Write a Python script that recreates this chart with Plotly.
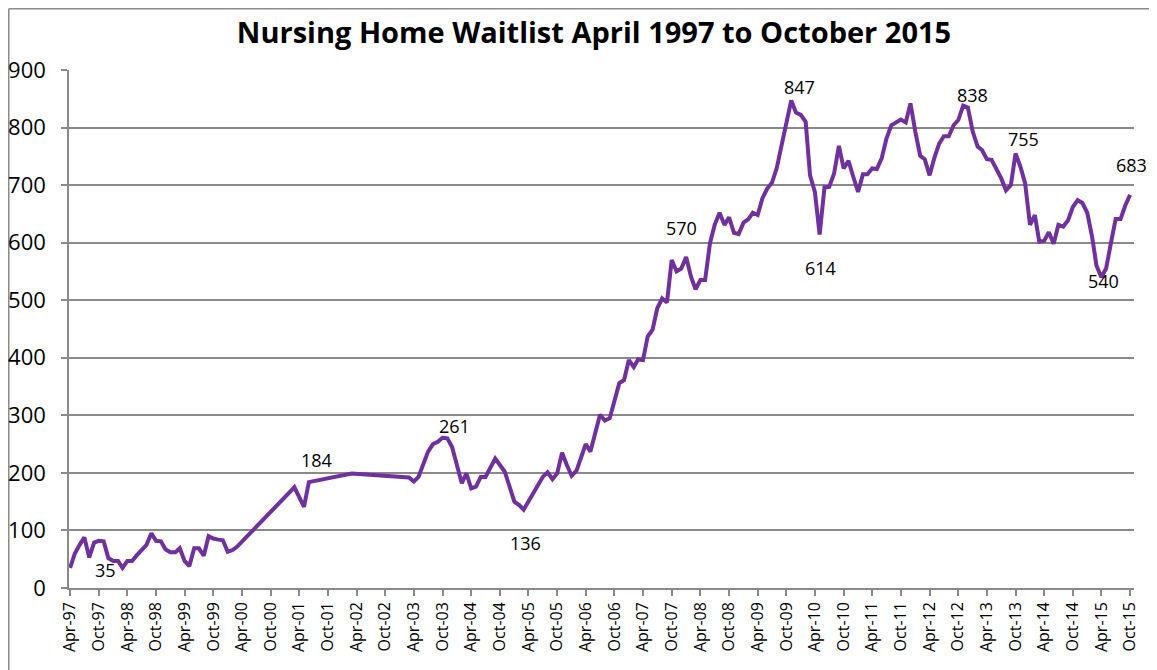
import plotly.graph_objects as go

months = [
    "1997-04", "1997-05", "1997-06", "1997-07", "1997-08", "1997-09", "1997-10", "1997-11", "1997-12",
    "1998-01", "1998-02", "1998-03", "1998-04", "1998-05", "1998-06", "1998-07", "1998-08", "1998-09", "1998-10", "1998-11", "1998-12",
    "1999-01", "1999-02", "1999-03", "1999-04", "1999-05", "1999-06", "1999-07", "1999-08", "1999-09", "1999-10", "1999-11", "1999-12",
    "2000-01", "2000-02", "2000-03",
    "2001-03", "2001-05", "2001-06",
    "2002-03",
    "2003-03", "2003-04", "2003-05", "2003-07", "2003-08", "2003-09", "2003-10", "2003-11", "2003-12",
    "2004-02", "2004-03", "2004-04", "2004-05", "2004-06", "2004-07", "2004-09", "2004-11",
    "2005-01", "2005-02", "2005-03", "2005-04", "2005-05", "2005-06", "2005-07", "2005-08", "2005-09", "2005-10", "2005-11", "2005-12",
    "2006-01", "2006-02", "2006-04", "2006-05", "2006-07", "2006-08", "2006-09", "2006-11", "2006-12",
    "2007-01", "2007-02", "2007-03", "2007-04", "2007-05", "2007-06", "2007-07", "2007-08", "2007-09", "2007-10", "2007-11", "2007-12",
    "2008-01", "2008-02", "2008-03", "2008-04", "2008-05", "2008-06", "2008-07", "2008-08", "2008-09", "2008-10", "2008-11", "2008-12",
    "2009-01", "2009-02", "2009-03", "2009-04", "2009-05", "2009-06", "2009-07", "2009-08", "2009-09", "2009-10", "2009-11", "2009-12",
    "2010-01", "2010-02", "2010-03", "2010-04", "2010-05", "2010-06", "2010-07", "2010-08", "2010-09", "2010-10", "2010-11", "2010-12",
    "2011-01", "2011-02", "2011-03", "2011-04", "2011-05", "2011-06", "2011-07", "2011-08", "2011-09", "2011-10", "2011-11", "2011-12",
    "2012-01", "2012-02", "2012-03", "2012-04", "2012-05", "2012-06", "2012-07", "2012-08", "2012-09", "2012-10", "2012-11", "2012-12",
    "2013-01", "2013-02", "2013-03", "2013-04", "2013-05", "2013-06", "2013-07", "2013-08", "2013-09", "2013-10", "2013-11", "2013-12",
    "2014-01", "2014-02", "2014-03", "2014-04", "2014-05", "2014-06", "2014-07", "2014-08", "2014-09", "2014-10", "2014-11", "2014-12",
    "2015-01", "2015-02", "2015-03", "2015-04", "2015-05", "2015-06", "2015-07", "2015-08", "2015-09", "2015-10",
]

waitlist = [
    35, 60, 75, 88, 53, 79, 82, 81, 52,
    47, 47, 35, 47, 47, 57, 65, 75, 95, 82, 81, 67,
    62, 62, 69, 47, 38, 69, 69, 56, 90, 86, 84, 83,
    63, 66, 72,
    175, 141, 184,
    199,
    192, 185, 193, 237, 250, 254, 261, 260, 245,
    182, 199, 173, 176, 193, 193, 225, 202,
    150, 144, 136, 150, 163, 180, 193, 201, 189, 199, 235, 214,
    195, 204, 250, 237, 301, 291, 295, 356, 361,
    396, 384, 397, 396, 437, 449, 486, 503, 496, 570, 550, 555,
    575, 541, 519, 535, 535, 599, 631, 652, 631, 644, 617, 615,
    635, 641, 652, 648, 677, 694, 704, 730, 770, 810, 847, 826,
    822, 810, 717, 688, 614, 696, 697, 720, 768, 729, 742, 715,
    688, 719, 719, 729, 728, 747, 781, 804, 809, 814, 809, 842,
    793, 751, 745, 717, 747, 772, 785, 785, 804, 813, 838, 835,
    793, 767, 761, 745, 744, 727, 712, 691, 700, 755, 732, 703,
    631, 648, 602, 603, 618, 598, 631, 628, 639, 662, 674, 669,
    652, 610, 560, 540, 555, 599, 641, 641, 665, 683,
]

# labelled points: month, value, pixel offset of label (x, y up)
label_months = ["1997-04", "2001-06", "2003-10", "2005-03", "2007-10", "2009-11",
                "2010-05", "2012-11", "2013-10", "2015-04", "2015-10"]
label_values = [35, 184, 261, 136, 570, 847, 614, 838, 755, 540, 683]
label_shift = [(35, -2), (8, 22), (12, 12), (2, -33), (10, 32), (8, 14),
               (1, -33), (9, 11), (8, 14), (2, -4), (1, 30)]

title_text = "Nursing Home Waitlist April 1997 to October 2015"

FONT = "Open Sans"
GRID = "#8a8a8a"

# the page body adds an 8px offset, so the figure is sized/laid out accordingly
OFF = 8
W, H = 1157 - OFF, 670 - OFF
L, R, T, B = 69 - OFF, 1157 - 1134, 70 - OFF, 670 - 588
pw, ph = W - L - R, H - T - B

fig = go.Figure()
fig.add_trace(go.Scatter(
    x=[m + "-01" for m in months], y=waitlist, mode="lines",
    line=dict(color="#7030A0", width=4), hoverinfo="x+y", showlegend=False,
))

for m, v, (dx, dy) in zip(label_months, label_values, label_shift):
    fig.add_annotation(x=m + "-01", y=v, text=str(v), showarrow=False,
                       xshift=dx, yshift=dy,
                       font=dict(family=FONT, size=18, color="black"))


def px(x):
    return (x - OFF - L) / pw


def py(y):
    return (H - B - (y - OFF)) / ph


# chart frame (left and top edges visible)
fig.add_shape(type="line", xref="paper", yref="paper",
              x0=px(8.75), x1=px(8.75), y0=py(670), y1=py(8.75),
              line=dict(color="#8a8a8a", width=1.5), layer="below")
fig.add_shape(type="line", xref="paper", yref="paper",
              x0=px(8.75), x1=px(1157), y0=py(8.75), y1=py(8.75),
              line=dict(color="#8a8a8a", width=1.5), layer="below")

fig.update_layout(
    width=W, height=H,
    margin=dict(l=L, r=R, t=T, b=B, autoexpand=False),
    paper_bgcolor="white", plot_bgcolor="white",
    title=dict(text="<b>" + title_text + "</b>", x=(594 - OFF) / W, xanchor="center",
               y=1 - (33 - OFF) / H, yanchor="middle",
               font=dict(family=FONT, size=29, color="black")),
    font=dict(family=FONT, color="black"),
)

fig.update_xaxes(
    type="date", range=["1997-03-25", "2015-10-26"], automargin=False,
    tick0="1997-04-01", dtick="M6", tickformat="%b-%y", tickangle=-90,
    ticks="outside", ticklen=6, tickcolor=GRID, tickwidth=1.5,
    showline=True, linecolor=GRID, linewidth=1.5,
    showgrid=False, zeroline=False,
    tickfont=dict(family=FONT, size=16, color="black"),
)
fig.update_yaxes(
    range=[0, 900], dtick=100, tick0=0, automargin=False,
    ticks="outside", ticklen=6, tickcolor=GRID, tickwidth=1.5,
    showline=True, linecolor=GRID, linewidth=1.5,
    showgrid=True, gridcolor=GRID, gridwidth=1.5, zeroline=False,
    tickfont=dict(family=FONT, size=22, color="black"),
    ticklabelstandoff=11,
)

fig.write_html("out.html")
